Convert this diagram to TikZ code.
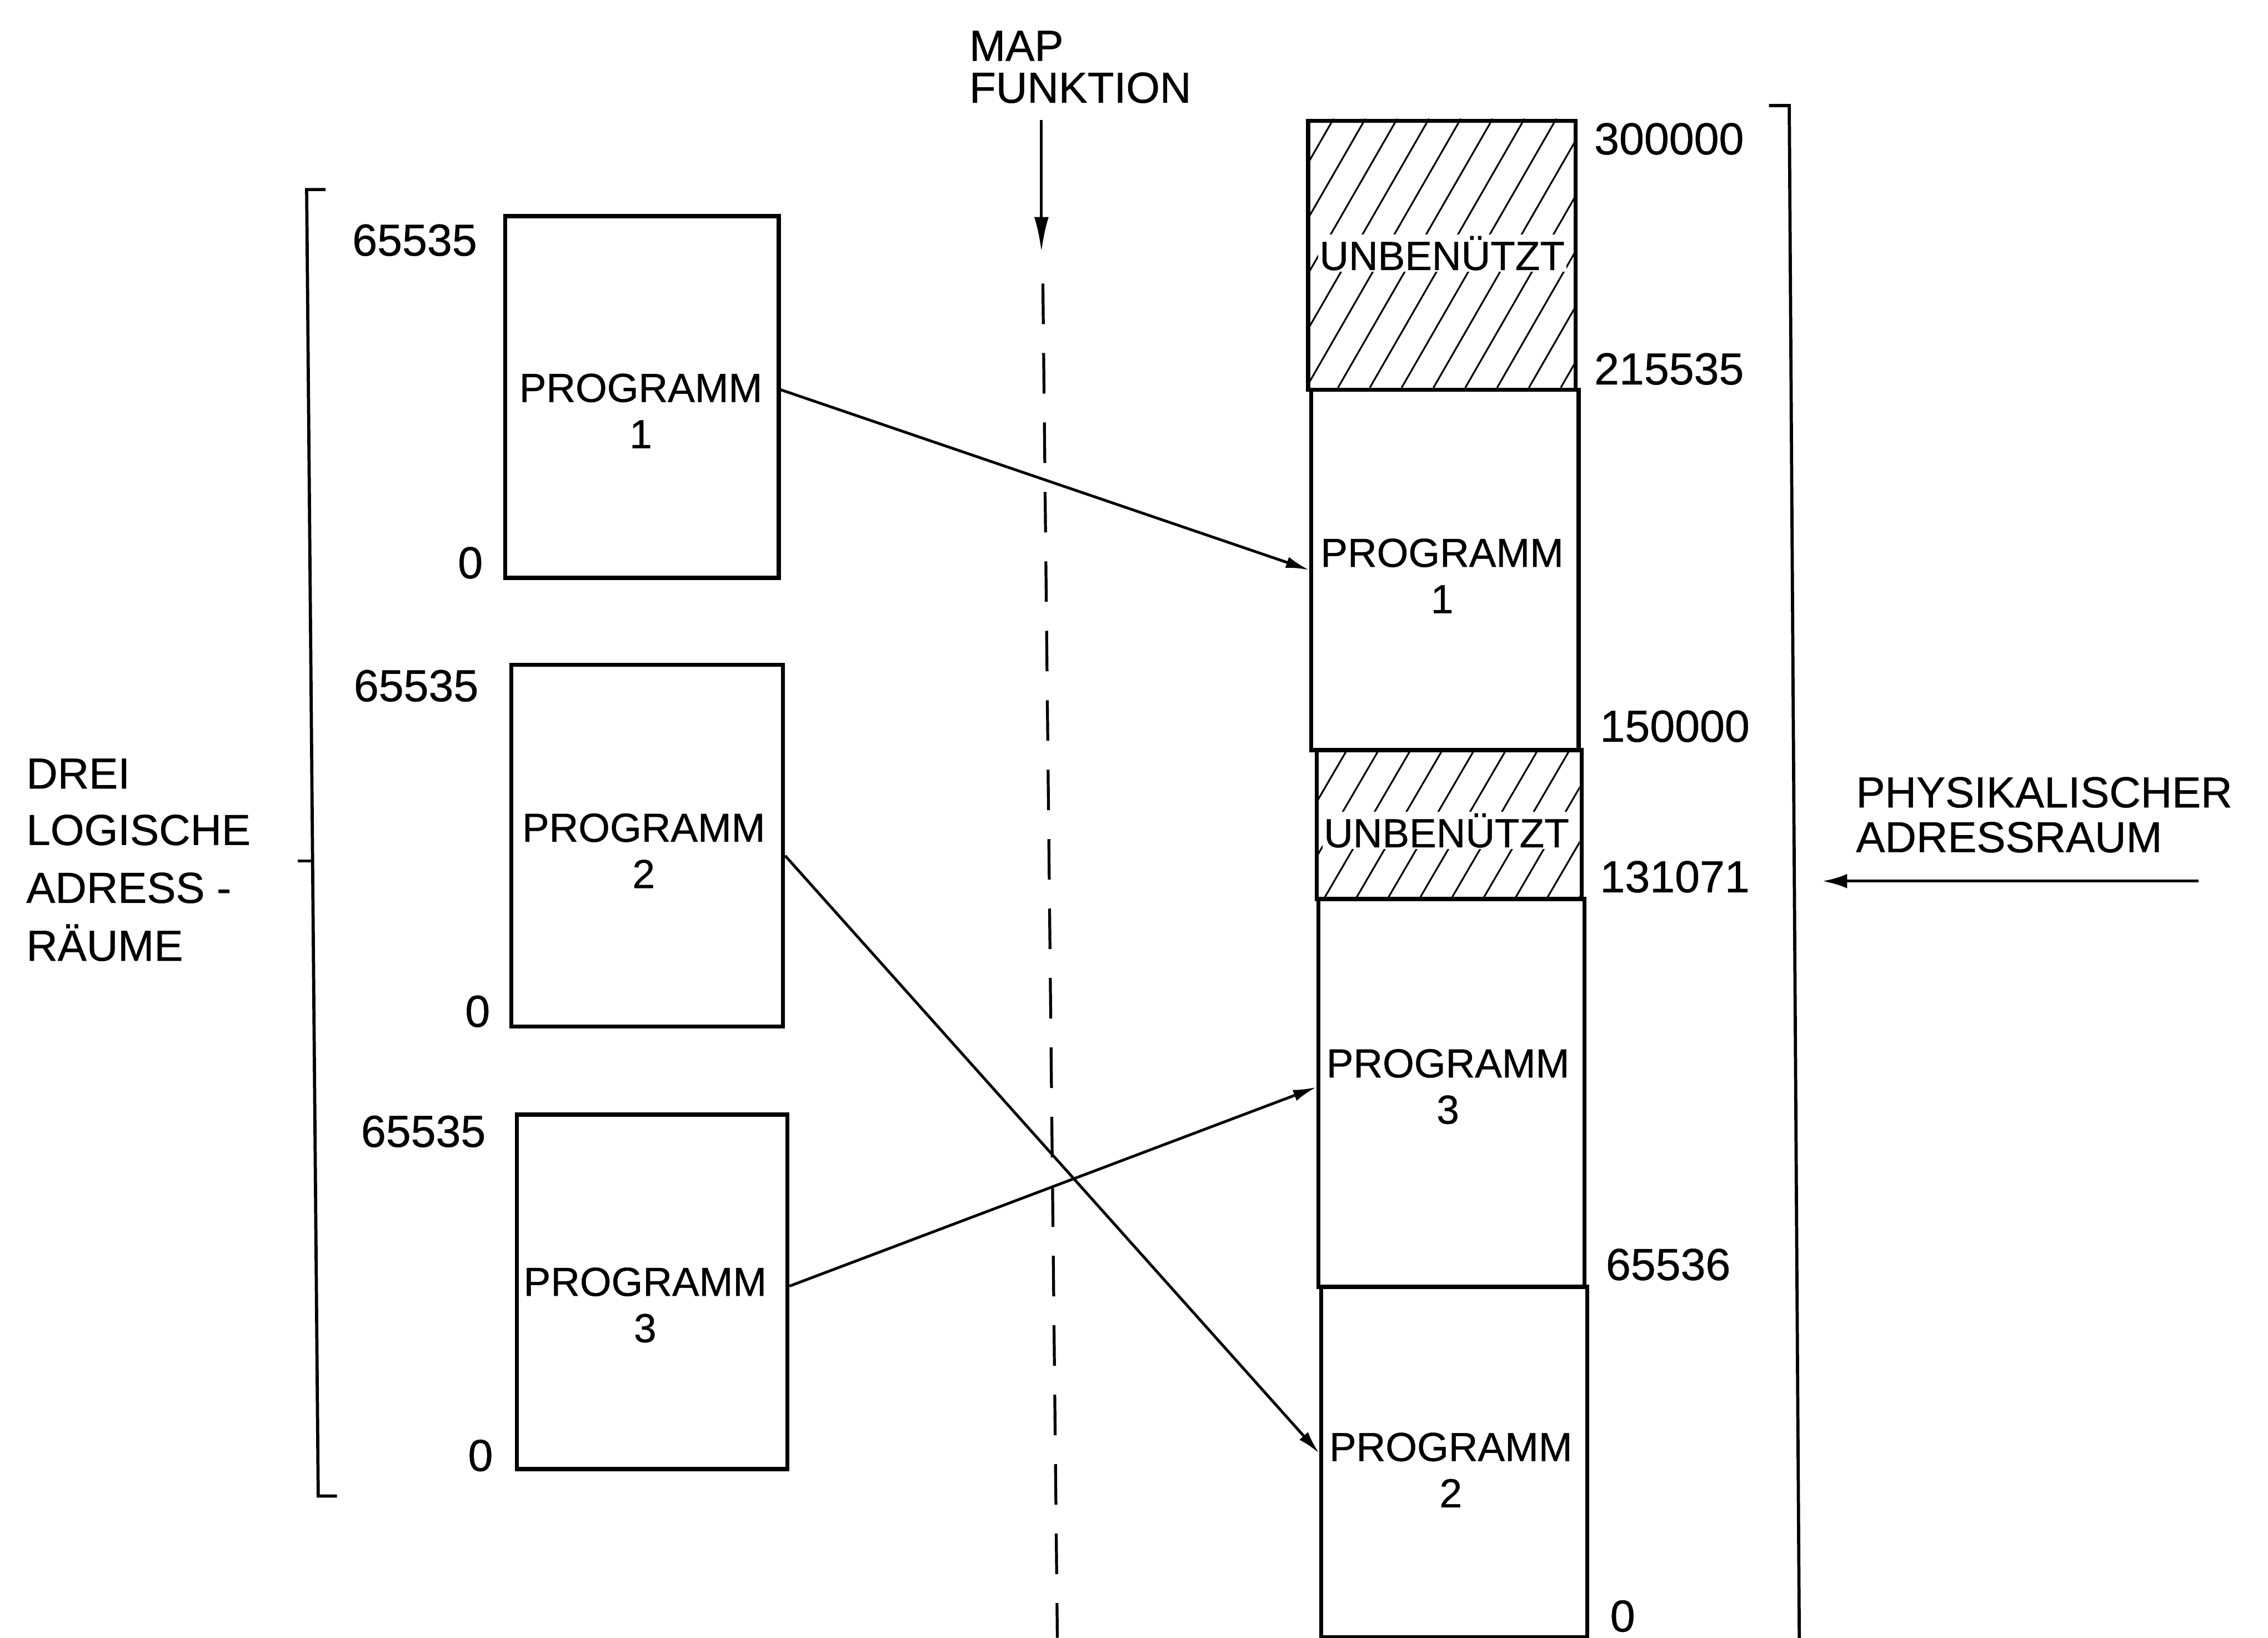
\documentclass[tikz,border=0pt]{standalone}
\usepackage{fontspec}
\setmainfont{Liberation Sans}[FakeBold=0.6]
\usetikzlibrary{arrows.meta}
\begin{document}
\begin{tikzpicture}[x=1pt,y=-1pt,
  box/.style={draw, line width=2.8pt, inner sep=0pt, anchor=north west},
  lbl/.style={inner sep=0pt, align=center, font=\fontsize{28}{32}\selectfont},
  unb/.style={inner sep=1pt, fill=white, font=\fontsize{28}{32}\selectfont},
  num/.style={inner sep=0pt, font=\fontsize{31}{31}\selectfont},
  txt/.style={inner sep=0pt, anchor=base west, font=\fontsize{30}{30}\selectfont},
  conn/.style={line width=1.9pt, -{Latex[length=16pt,width=8pt]}},
  hatch/.style={line width=1.2pt},
  brk/.style={line width=2.2pt}]

\useasboundingbox (0,0) rectangle (1568,1132);

% ---------- logical address spaces ----------
\node[box, minimum width=189pt, minimum height=250pt] (L1) at (348,148) {};
\node[box, minimum width=188pt, minimum height=250pt] (L2) at (352,458) {};
\node[box, minimum width=187pt, minimum height=245pt] (L3) at (356,769) {};
\node[lbl] (L1t) at (443,284) {PROGRAMM\\1};
\node[lbl] (L2t) at (445,588) {PROGRAMM\\2};
\node[lbl] (L3t) at (446,902) {PROGRAMM\\3};

\node[num, anchor=east] (L1hi) at (330,166) {65535};
\node[num, anchor=east] (L1lo) at (334,389) {0};
\node[num, anchor=east] (L2hi) at (331,474) {65535};
\node[num, anchor=east] (L2lo) at (339,699) {0};
\node[num, anchor=east] (L3hi) at (336,782) {65535};
\node[num, anchor=east] (L3lo) at (341,1006) {0};

% left bracket
\draw[brk] (225,131) -- (212,131) -- (220,1034) -- (233,1034);
\draw[brk] (216,595) -- (206,595);
\node[txt] (d1t) at (18,545) {DREI};
\node[txt] (d2t) at (18,584) {LOGISCHE};
\node[txt] (d3t) at (18,624) {ADRESS -};
\node[txt] (d4t) at (18,664) {RÄUME};

% ---------- map function ----------
\node[txt] (m1t) at (670,42) {MAP};
\node[txt] (m2t) at (670,71) {FUNKTION};
\coordinate (ma) at (720,83);
\coordinate (mb) at (720,174);
\draw[line width=2pt, -{Latex[length=24pt,width=10pt]}] (ma) -- (mb);
\coordinate (da) at (721,196);
\coordinate (db) at (731,1132);
\draw[line width=2pt, dash pattern=on 28pt off 20pt] (da) -- (db);

% ---------- physical address space ----------
\begin{scope}
  \clip (903,82) rectangle (1088,268);
  \foreach \k in {0,...,14} \draw[hatch] ({793+\k*22},268) -- ++(107,-186);
\end{scope}
\begin{scope}
  \clip (909,517) rectangle (1092,620);
  \foreach \k in {0,...,11} \draw[hatch] ({850+\k*22},620) -- ++(60,-103);
\end{scope}

\node[box, minimum width=185pt, minimum height=186pt] (H1) at (903,82) {};
\node[box, minimum width=185pt, minimum height=249pt] (P1) at (905,268) {};
\node[box, minimum width=183pt, minimum height=103pt] (H2) at (909,517) {};
\node[box, minimum width=184pt, minimum height=268pt] (P3) at (910,620) {};
\node[box, minimum width=184pt, minimum height=242pt] (P2) at (912,888) {};

\node[unb] (H1t) at (997,175) {UNBENÜTZT};
\node[unb] (H2t) at (1000,574) {UNBENÜTZT};
\node[lbl] (P1t) at (997,398) {PROGRAMM\\1};
\node[lbl] (P3t) at (1001,751) {PROGRAMM\\3};
\node[lbl] (P2t) at (1003,1016) {PROGRAMM\\2};

\node[num, anchor=west] (a300) at (1102,96) {300000};
\node[num, anchor=west] (a215) at (1102,255) {215535};
\node[num, anchor=west] (a150) at (1106,502) {150000};
\node[num, anchor=west] (a131) at (1106,606) {131071};
\node[num, anchor=west] (a655) at (1110,874) {65536};
\node[num, anchor=west] (a0) at (1113,1117) {0};

% right bracket
\draw[brk] (1223,73) -- (1237,73) -- (1244,1140);
\node[txt] (p1t) at (1283,558) {PHYSIKALISCHER};
\node[txt] (p2t) at (1283,589) {ADRESSRAUM};
\coordinate (pa) at (1520,609);
\coordinate (pb) at (1260,609);
\draw[line width=2pt, -{Latex[length=17pt,width=10pt]}] (pa) -- (pb);

% ---------- mapping connectors ----------
\draw[conn] ([yshift=5pt]L1.east) -- (P1.west);
\draw[conn] ([yshift=-7pt]L2.east) -- ([yshift=6pt]P2.west);
\draw[conn] ([yshift=4pt]L3.east) -- ([yshift=4pt]P3.west);
\end{tikzpicture}
\end{document}
